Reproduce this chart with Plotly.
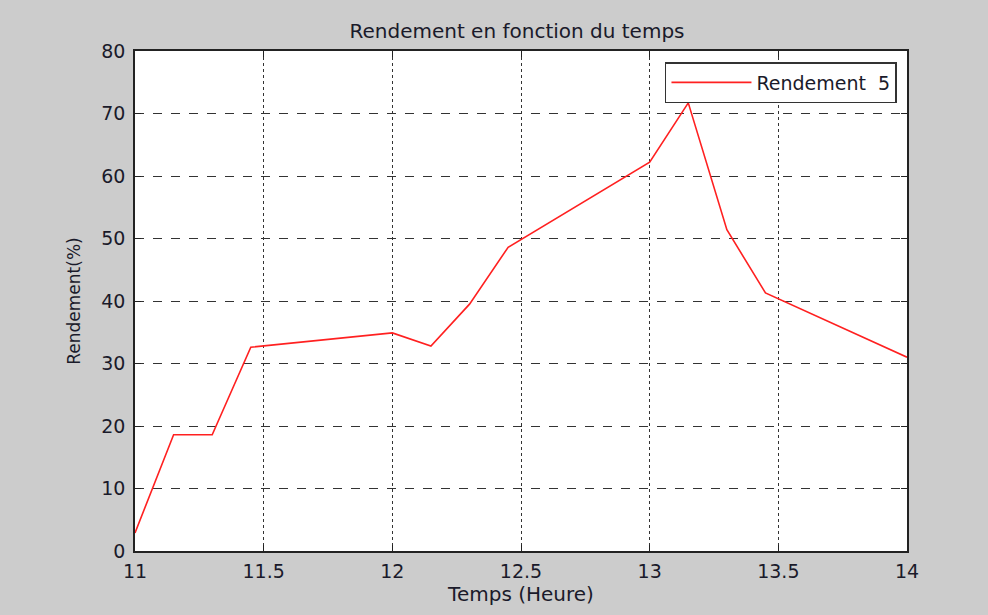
import plotly.graph_objects as go

temps = [11.0, 11.15, 11.30, 11.45, 12.0, 12.15, 12.30, 12.45, 13.0, 13.15, 13.30, 13.45, 14.0]
rendement = [2.9, 18.6, 18.6, 32.6, 34.9, 32.8, 39.5, 48.6, 62.2, 71.7, 51.4, 41.3, 31.0]
x_ticks = [11, 11.5, 12, 12.5, 13, 13.5, 14]
x_tick_labels = ["11", "11.5", "12", "12.5", "13", "13.5", "14"]
y_ticks = [0, 10, 20, 30, 40, 50, 60, 70, 80]

fig = go.Figure()
fig.add_trace(go.Scatter(x=temps, y=rendement, mode="lines", name="Rendement  5",
                         line=dict(color="#ff2020", width=1.6)))

font_family = "DejaVu Sans, sans-serif"
fig.update_layout(
    width=988, height=615,
    paper_bgcolor="#cccccc", plot_bgcolor="white",
    margin=dict(l=135, r=81, t=51, b=64),
    title=dict(text="Rendement en fonction du temps", x=517/988, xanchor="center",
               y=1 - 31/615, yanchor="middle",
               font=dict(family=font_family, size=20, color="#1a1a2a")),
    font=dict(family=font_family, size=19, color="#1a1a2a"),
    showlegend=True,
    legend=dict(x=0.987, xanchor="right", y=0.978, yanchor="top",
                bgcolor="white", bordercolor="#333", borderwidth=1.5,
                itemwidth=80,
                font=dict(size=19, color="#1a1a2a")),
)
fig.update_xaxes(range=[11, 14], tickvals=x_ticks, ticktext=x_tick_labels,
                 showline=True, linecolor="#222", linewidth=1.5, mirror="ticks",
                 ticks="inside", ticklen=6, tickcolor="#222",
                 ticklabelstandoff=2,
                 showgrid=True, gridcolor="#333", griddash="dot", gridwidth=1.3,
                 zeroline=False,
                 title=dict(text="Temps (Heure)", standoff=4, font=dict(size=20)))
fig.update_yaxes(range=[0, 80], tickvals=y_ticks,
                 showline=True, linecolor="#222", linewidth=1.5, mirror="ticks",
                 ticks="inside", ticklen=6, tickcolor="#222",
                 ticklabelstandoff=4,
                 showgrid=True, gridcolor="#333", griddash="dash", gridwidth=1.3,
                 zeroline=False,
                 title=dict(text="Rendement(%)", standoff=16, font=dict(size=17)))

fig.write_html("out.html", config={"displayModeBar": False},
               post_script="document.body.style.margin='0';document.body.style.overflow='hidden';")
